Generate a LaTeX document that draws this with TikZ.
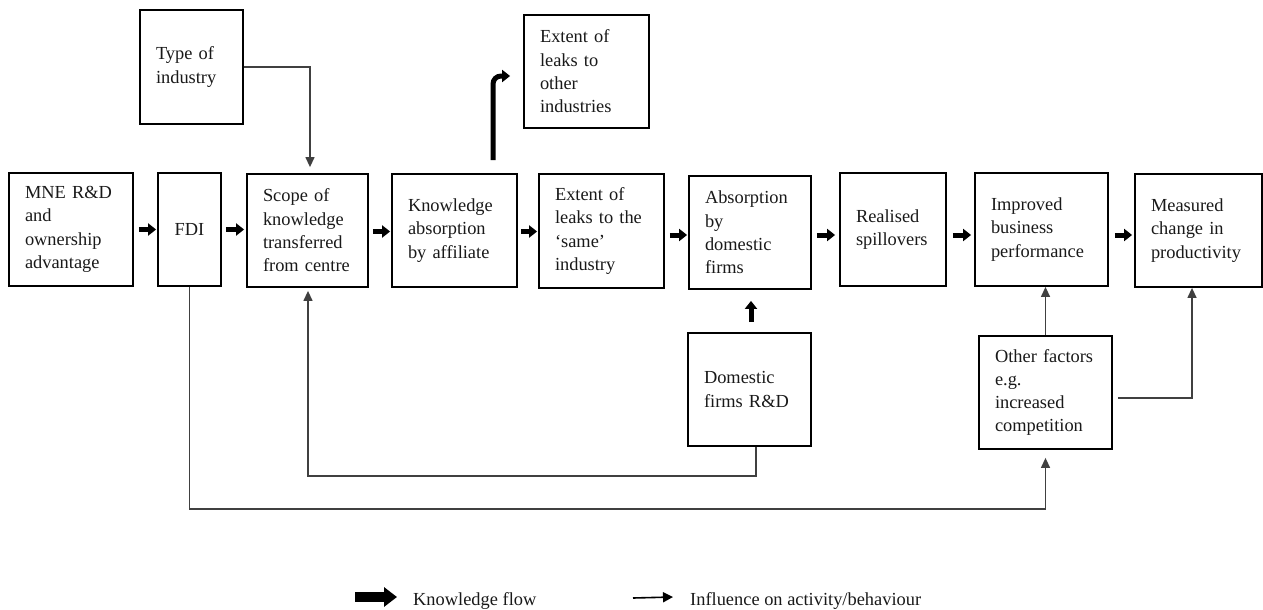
\documentclass[tikz,border=0pt]{standalone}
\usepackage{fontspec}
\setmainfont{Liberation Serif}
\usetikzlibrary{arrows.meta}
\begin{document}
\begin{tikzpicture}[x=1pt,y=-1pt,
  box/.style={draw=black, line width=1.8pt, align=left, inner xsep=16pt, inner ysep=0pt,
    font=\fontsize{18.4}{23.3}\selectfont, text=black!90,
    execute at begin node={\hyphenpenalty=10000\relax}},
  kflow/.style={line width=5pt, draw=black, -{Triangle[length=8pt,width=12pt]}},
  bigflow/.style={line width=10pt, draw=black, -{Triangle[length=13pt,width=19pt]}},
  infl/.style={line width=1.3pt, draw=black!75, -{Triangle[length=10pt,width=9pt]}},
  legtext/.style={anchor=base west, inner sep=0pt, font=\fontsize{18.4}{23.3}\selectfont, text=black!90}
]
\useasboundingbox (0,0) rectangle (1263,610);

% main chain
\node[box, minimum width=124pt, minimum height=113pt, text width=92pt] (mne) at (71,229.5) {MNE R\&D\\and\\ownership\\advantage};
\node[box, align=center, minimum width=63pt, minimum height=113pt, inner xsep=2pt] (fdi) at (189.5,229.5) {FDI};
\node[box, minimum width=121pt, minimum height=113pt, text width=89pt] (scope) at (307.5,230.5) {Scope of\\knowledge\\transferred\\from centre};
\node[box, minimum width=125pt, minimum height=113pt, text width=93pt] (ka) at (454.5,230.5) {Knowledge\\absorption\\by affiliate};
\node[box, minimum width=125pt, minimum height=114pt, text width=93pt] (same) at (601.5,231) {Extent of\\leaks to the\\‘same’\\industry};
\node[box, minimum width=122pt, minimum height=113pt, text width=90pt] (absd) at (750,232.5) {Absorption\\by\\domestic\\firms};
\node[box, minimum width=106pt, minimum height=113pt, text width=74pt] (real) at (893,229.5) {Realised\\spillovers};
\node[box, minimum width=133pt, minimum height=113pt, text width=101pt] (impr) at (1041.5,229.5) {Improved\\business\\performance};
\node[box, minimum width=127pt, minimum height=113pt, text width=95pt] (meas) at (1198.5,230.5) {Measured\\change in\\productivity};

% other boxes
\node[box, minimum width=103pt, minimum height=114pt, text width=71pt] (type) at (191.5,67) {Type of\\industry};
\node[box, minimum width=125pt, minimum height=113pt, text width=93pt] (otherind) at (586.5,71.5) {Extent of\\leaks to\\other\\industries};
\node[box, minimum width=123pt, minimum height=113pt, text width=91pt] (drd) at (749.5,389.5) {Domestic\\firms R\&D};
\node[box, minimum width=133pt, minimum height=113pt, text width=101pt] (ofac) at (1045.5,392.5) {Other factors\\e.g.\\increased\\competition};

% knowledge flow arrows
\draw[kflow] ([xshift=5pt]mne.east) -- ([xshift=-1pt]mne.east -| fdi.west);
\draw[kflow] ([xshift=4pt]fdi.east) -- ([xshift=-2pt]fdi.east -| scope.west);
\draw[kflow] ([xshift=4pt,yshift=-1pt]scope.east) -- ([xshift=-1pt,yshift=-1pt]scope.east -| ka.west);
\draw[kflow] ([xshift=3pt,yshift=-1pt]ka.east) -- ([xshift=-1pt,yshift=-1pt]ka.east -| same.west);
\draw[kflow] ([xshift=5pt,yshift=-4pt]same.east) -- ([xshift=-1pt,yshift=-4pt]same.east -| absd.west);
\draw[kflow] ([xshift=5pt,yshift=-2.5pt]absd.east) -- ([xshift=-4pt,yshift=-2.5pt]absd.east -| real.west);
\draw[kflow] ([xshift=6pt,yshift=-5.5pt]real.east) -- ([xshift=-3pt,yshift=-5.5pt]real.east -| impr.west);
\draw[kflow] ([xshift=6pt,yshift=-5.5pt]impr.east) -- ([xshift=-2pt,yshift=-5.5pt]impr.east -| meas.west);
\draw[kflow, rounded corners=8pt] ([xshift=38.5pt,yshift=13pt]ka.north) |- ([xshift=-13pt,yshift=-4.5pt]otherind.west);
\draw[kflow] ([xshift=1.5pt,yshift=10pt]drd.north) -- ([xshift=1pt,yshift=-11pt]absd.south);

% influence arrows
\draw[infl] (type.east) -| ([xshift=2.5pt,yshift=6pt]scope.north);
\draw[infl] (fdi.south) -- ++(0,222) -| ([yshift=-8pt]ofac.south);
\draw[infl] ([xshift=6.5pt]drd.south) -- ++(0,29) -| ([xshift=0.5pt,yshift=-3pt]scope.south);
\draw[infl] (ofac.north) -- (ofac.north |- impr.south);
\draw[infl] ([xshift=5pt,yshift=-5.5pt]ofac.east) -| ([xshift=-6.5pt]meas.south);

% legend
\coordinate (lk1) at (355,597);
\coordinate (lk2) at (397,597);
\draw[bigflow] (lk1) -- (lk2);
\node[legtext] (lktext) at (413,605) {Knowledge flow};
\coordinate (li1) at (633,598);
\coordinate (li2) at (673,597);
\draw[line width=1.6pt, draw=black, -{Triangle[length=10pt,width=10pt]}] (li1) -- (li2);
\node[legtext] (litext) at (690,605) {Influence on activity/behaviour};
\end{tikzpicture}
\end{document}
